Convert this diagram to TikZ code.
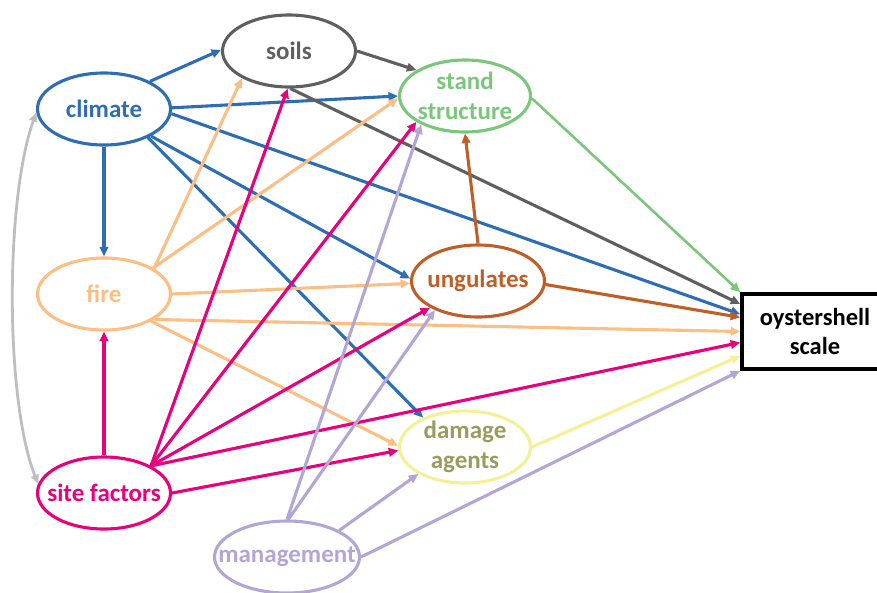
\documentclass[tikz,border=0pt]{standalone}
\usepackage{fontspec}
\setmainfont{Carlito}
\usetikzlibrary{arrows.meta,calc,shapes.geometric}
\definecolor{cblue}{RGB}{46,109,180}
\definecolor{cgray}{RGB}{95,95,95}
\definecolor{cgreen}{RGB}{122,198,122}
\definecolor{corange}{RGB}{252,190,130}
\definecolor{cbrown}{RGB}{192,94,40}
\definecolor{cyellow}{RGB}{245,240,150}
\definecolor{colive}{RGB}{155,155,95}
\definecolor{cmag}{RGB}{232,0,125}
\definecolor{clav}{RGB}{180,165,215}
\definecolor{clgray}{RGB}{190,190,190}
\begin{document}
\begin{tikzpicture}[x=1pt,y=-1pt,
  var/.style={ellipse, draw, line width=3.1pt, minimum width=133pt, minimum height=72pt,
    inner sep=-30pt, align=center, font=\bfseries\fontsize{25}{30}\selectfont},
  box/.style={rectangle, draw=black, line width=3.6pt, minimum width=146pt, minimum height=75pt,
    inner sep=0pt, align=center, font=\bfseries\fontsize{24.5}{29}\selectfont},
  arr/.style={line width=3.1pt, -{Triangle[length=9.5pt,width=8.5pt]}},
  ab/.style={arr, draw=cblue},
  ag/.style={arr, draw=cgray},
  agr/.style={arr, draw=cgreen, line width=2.6pt},
  ao/.style={arr, draw=corange},
  abr/.style={arr, draw=cbrown},
  ay/.style={arr, draw=cyellow},
  am/.style={arr, draw=cmag},
  al/.style={arr, draw=clav},
  alg/.style={line width=2.8pt, draw=clgray, {Triangle[length=9pt,width=8pt]}-{Triangle[length=9pt,width=8pt]}}]
\useasboundingbox (0,0) rectangle (877,592);

\node[var, draw=cblue, text=cblue] (climate) at (104,109) {climate};
\node[var, draw=cgray, text=cgray] (soils) at (289,51) {soils};
\node[var, draw=cgreen, text=cgreen, minimum width=131pt] (stand) at (465,96) {stand\\structure};
\node[var, draw=corange, text=corange] (fire) at (104,294) {fire};
\node[var, draw=cbrown, text=cbrown] (ung) at (478,281) {ungulates};
\node[var, draw=cyellow, text=colive, minimum width=131pt] (dmg) at (465,447) {damage\\agents};
\node[var, draw=cmag, text=cmag] (site) at (104,493) {site factors};
\node[var, draw=clav, text=clav, minimum width=145pt] (mgmt) at (287,557) {management};
\node[box] (O) at (815,331.5) {oystershell\\scale};

% climate
\draw[ab] (climate.31) -- (soils.179);
\draw[ab] (climate.1) -- (stand.180);
\draw[ab] (climate.-4) -- ($(O.north west)!0.28!(O.south west)$);
\draw[ab] (climate.-90) -- (fire.90);
\draw[ab] (climate.-30) -- (ung.178);
\draw[ab] (climate.-33) -- (dmg.145);
% soils
\draw[ag] (soils.0) -- (stand.152);
\draw[ag] (soils.-88) -- ($(O.north west)!0.15!(O.south west)$);
% stand structure
\draw[agr] (stand.-2) -- (O.north west);
% fire
\draw[ao] (fire.27) -- (soils.-150);
\draw[ao] (fire.28) -- (stand.182);
\draw[ao] (fire.0) -- (ung.182);
\draw[ao] (fire.-27) -- ($(O.north west)!0.5!(O.south west)$);
\draw[ao] (fire.-30) -- (dmg.179);
% ungulates
\draw[abr] (ung.90) -- (stand.-90);
\draw[abr] (ung.-3) -- ($(O.north west)!0.32!(O.south west)$);
% damage agents
\draw[ay] (dmg.0) -- ($(O.north west)!0.81!(O.south west)$);
% site factors
\draw[am] (site.90) -- (fire.-90);
\draw[am] (site.30) -- (soils.-92);
\draw[am] (site.30) -- (stand.-152);
\draw[am] (site.30) -- (ung.-151);
\draw[am] (site.30) -- ($(O.north west)!0.64!(O.south west)$);
\draw[am] (site.0) -- (dmg.183);
% management
\draw[al] (mgmt.90) -- (stand.-147);
\draw[al] (mgmt.88) -- (ung.-146);
\draw[al] (mgmt.27) -- (dmg.-150);
\draw[al] (mgmt.0) -- (O.south west);
% climate <-> site factors
\draw[alg] (climate.183) .. controls (5,200) and (5,400) .. (site.172);
\end{tikzpicture}
\end{document}
